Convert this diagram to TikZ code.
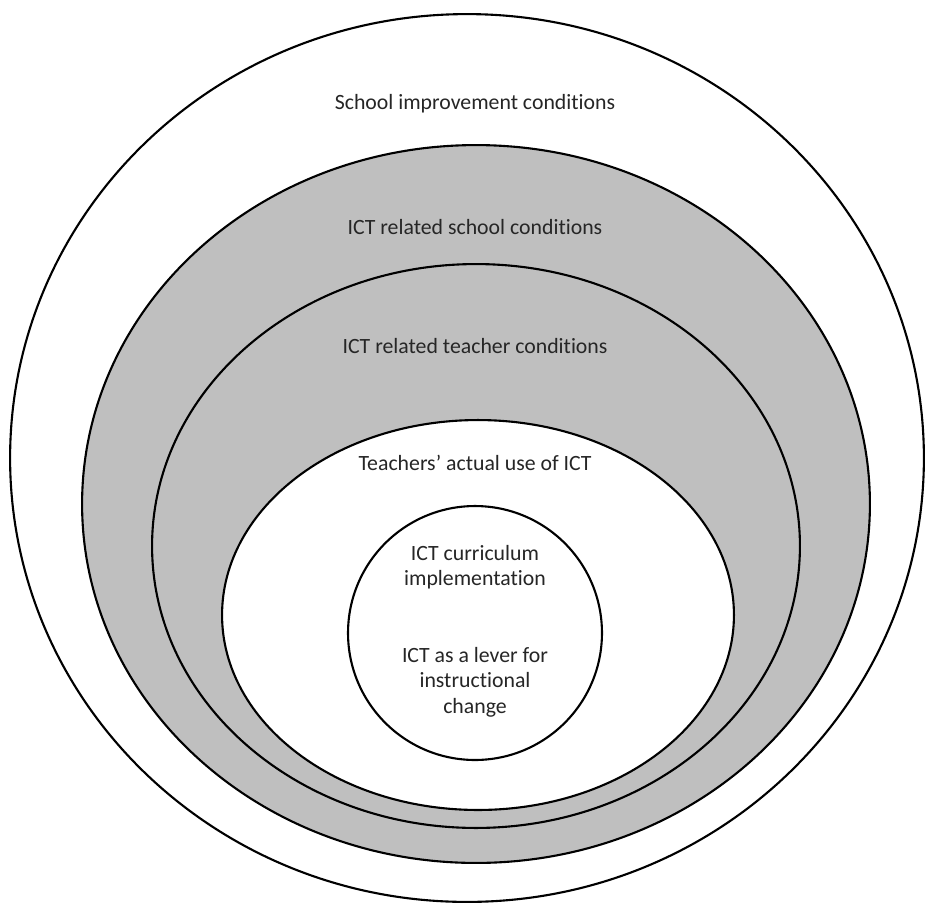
\documentclass[tikz,border=0pt]{standalone}
\usepackage{fontspec}
\setmainfont[Ligatures=NoCommon]{Carlito}
\usepackage{tikz}

\begin{document}
\begin{tikzpicture}[x=0.02cm,y=-0.02cm]

\tikzstyle{ring}=[draw=black,line width=1.2pt]
\tikzstyle{white ring}=[ring,fill=white]
\tikzstyle{grey ring}=[ring,fill=black!25]
\tikzstyle{label}=[align=center,font=\fontsize{12.4}{14.5}\selectfont,text=black!85]

\useasboundingbox (0,0) rectangle (927,904);

\path[white ring](467,458) ellipse [x radius=9.14cm,y radius=8.88cm];
\path[grey ring](476,504) ellipse [x radius=7.88cm,y radius=7.18cm];
\path[grey ring](476,546) ellipse [x radius=6.48cm,y radius=5.64cm];
\path[white ring](478,615) ellipse [x radius=5.12cm,y radius=3.90cm];
\path[white ring](475,633) circle [radius=2.54cm];

\node[label](school)at(475,104){School improvement conditions};
\node[label](ictschool)at(475,227){ICT related school conditions};
\node[label](ictteacher)at(475,346){ICT related teacher conditions};
\node[label](actual)at(475,463){Teachers’ actual use of ICT};
\node[label](curriculum)at(475,567){ICT curriculum\\implementation};
\node[label](lever)at(475,682){ICT as a lever for\\instructional\\change};

\end{tikzpicture}
\end{document}
